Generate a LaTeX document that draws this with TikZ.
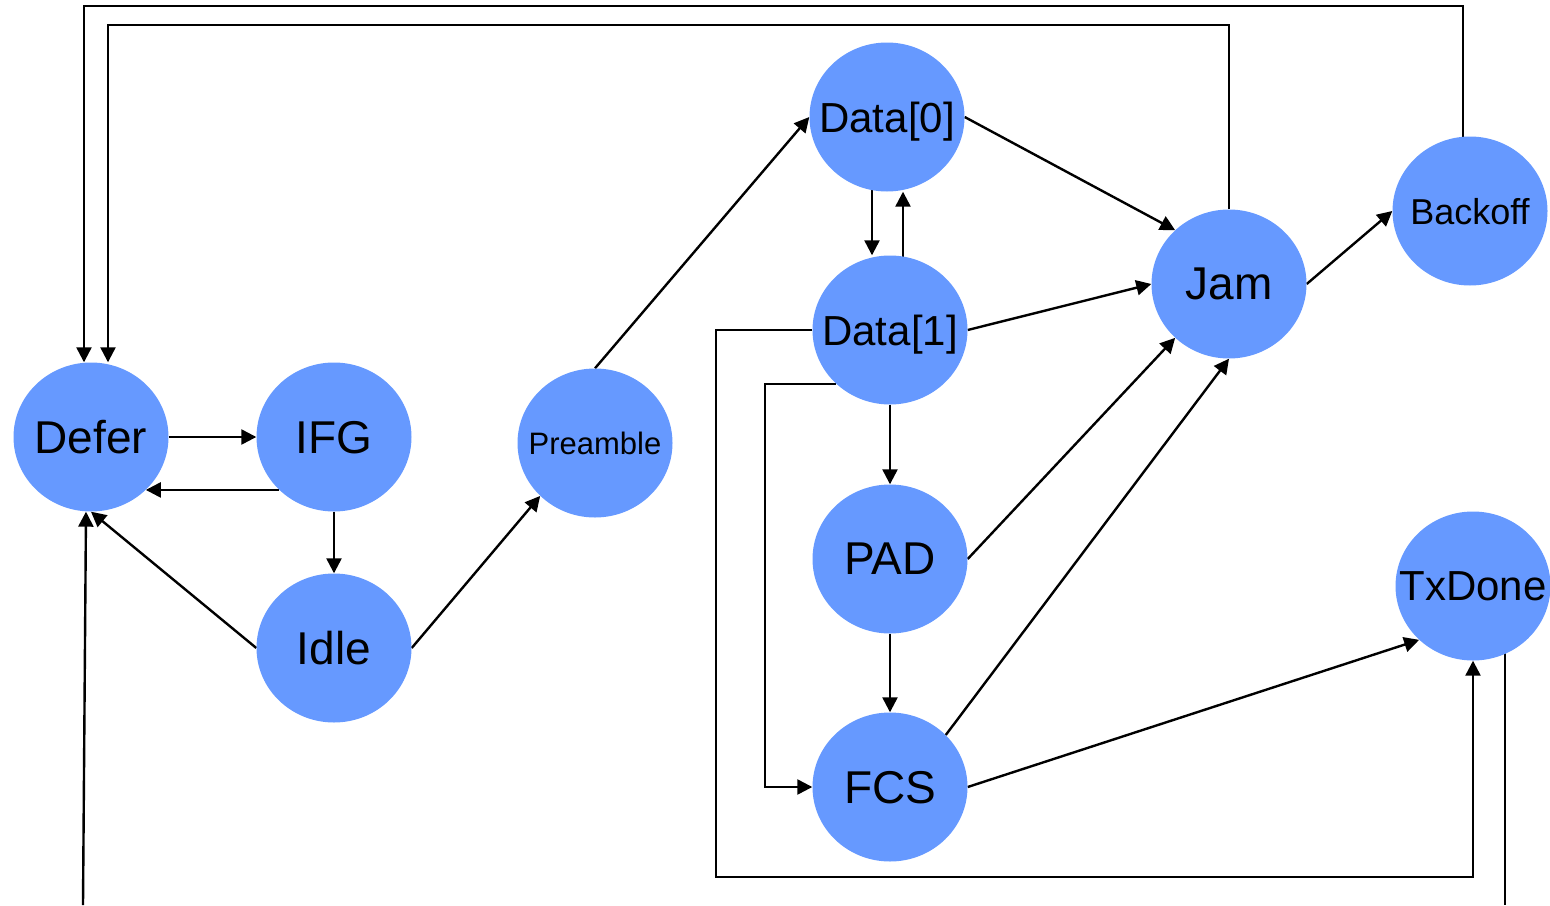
\documentclass[tikz,border=0pt]{standalone}
\usepackage{fontspec}
\setmainfont{Liberation Sans}
\usetikzlibrary{shapes.geometric,arrows.meta,backgrounds}
\definecolor{statefill}{HTML}{6699FF}
\newcommand\statelabel[1]{\makebox[0pt]{#1}}
\begin{document}
\begin{tikzpicture}[x=1pt,y=-1pt,
  state/.style={ellipse, fill=statefill, minimum width=155pt, minimum height=149pt, inner sep=0pt, text depth=0pt},
  big/.style={font=\fontsize{46}{50}\selectfont},
  mid/.style={font=\fontsize{42}{46}\selectfont},
  small/.style={font=\fontsize{36}{40}\selectfont},
  tiny/.style={font=\fontsize{31}{35}\selectfont},
  plain/.style={line width=2.4pt},
  link/.style={line width=2.4pt, -{Triangle[length=15pt,width=15pt]}}]
\useasboundingbox (0,0) rectangle (1550,905);

% states
\node[state,big]   (Defer)    at (91,437)   {\statelabel{Defer}};
\node[state,big]   (IFG)      at (334,437)  {\statelabel{IFG}};
\node[state,big]   (Idle)     at (334,648)  {\statelabel{Idle}};
\node[state,tiny]  (Preamble) at (595,443)  {\statelabel{Preamble}};
\node[state,mid]   (Data0)    at (887,117)  {\statelabel{Data[0]}};
\node[state,mid]   (Data1)    at (890,330)  {\statelabel{Data[1]}};
\node[state,big]   (PAD)      at (890,559)  {\statelabel{PAD}};
\node[state,big]   (FCS)      at (890,787)  {\statelabel{FCS}};
\node[state,big]   (Jam)      at (1229,284) {\statelabel{Jam}};
\node[state,small] (Backoff)  at (1470,211) {\statelabel{Backoff}};
\node[state,mid]   (TxDone)   at (1473,586) {\statelabel{TxDone}};

% routing helpers
\coordinate (topA)  at (1463,6);
\coordinate (topB)  at (0,25);
\coordinate (loopL) at (765,0);
\coordinate (loopB) at (716,877);
\coordinate (d01)   at (872,0);
\coordinate (d10)   at (903,0);
\coordinate (exitL) at (83,905);
\coordinate (exitR) at (1505,905);

\begin{pgfonlayer}{background}
  \draw[link] (Defer.east) -- (IFG.west);
  \draw[link] (IFG.224) -- (Defer.316);
  \draw[link] (IFG.south) -- (Idle.north);
  \draw[link] (Idle.west) -- (Defer.south);
  \draw[link] (exitL) -- ([xshift=-5pt]Defer.south);
  \draw[link] (Idle.east) -- (Preamble.224);
  \draw[link] (Preamble.north) -- (Data0.west);
  \draw[link] (Data0.east) -- (Jam.135);
  \draw[link] (d01 |- Data0.center) -- (d01 |- Data1.north);
  \draw[link] (d10 |- Data1.center) -- (d10 |- Data0.south);
  \draw[link] (Data1.east) -- (Jam.west);
  \draw[link] (Data1.south) -- (PAD.north);
  \draw[link] (Data1.225) -- (Data1.225 -| loopL) |- (FCS.west);
  \draw[link] (Data1.west) -| (loopB) -| (TxDone.south);
  \draw[link] (PAD.east) -- (Jam.225);
  \draw[link] (PAD.south) -- (FCS.north);
  \draw[link] (FCS.43) -- (Jam.south);
  \draw[link] (FCS.east) -- (TxDone.225);
  \draw[link] (Jam.east) -- (Backoff.west);
  \draw[link] (Jam.north) -- (Jam.north |- topB) -| ([xshift=17pt]Defer.north);
  \draw[link] (topA |- Backoff.center) -- (topA) -| ([xshift=-7pt]Defer.north);
  \draw[plain] (exitR |- TxDone.center) -- (exitR);
\end{pgfonlayer}
\end{tikzpicture}
\end{document}
